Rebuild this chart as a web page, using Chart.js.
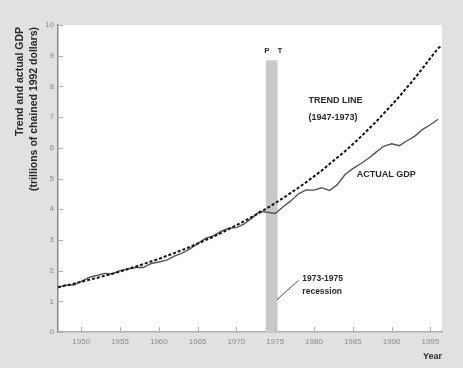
<!DOCTYPE html>
<html>
<head>
<meta charset="utf-8">
<script src="https://cdn.jsdelivr.net/npm/chart.js@4"></script>
<style>
  body { margin: 0; background: #e1e1e1; }
  canvas { display: block; }
</style>
</head>
<body>
<canvas id="myChart" width="463" height="368"></canvas>
<script>
// Datos (billones de dolares de 1992)
const trendYears = [1947, 1948, 1949, 1950, 1951, 1952, 1953, 1954, 1955, 1956, 1957, 1958, 1959,
    1960, 1961, 1962, 1963, 1964, 1965, 1966, 1967, 1968, 1969, 1970, 1971, 1972, 1973, 1974,
    1975, 1976, 1977, 1978, 1979, 1980, 1981, 1982, 1983, 1984, 1985, 1986, 1987, 1988, 1989,
    1990, 1991, 1992, 1993, 1994, 1995, 1996, 1996.5];
const trendValues = [1.46, 1.52, 1.57, 1.64, 1.70, 1.76, 1.83, 1.90, 1.97, 2.05, 2.13, 2.21, 2.30,
    2.38, 2.48, 2.57, 2.67, 2.77, 2.88, 2.99, 3.10, 3.22, 3.35, 3.48, 3.61, 3.75, 3.89, 4.04,
    4.20, 4.36, 4.53, 4.70, 4.88, 5.07, 5.26, 5.47, 5.68, 5.89, 6.12, 6.35, 6.60, 6.85, 7.12,
    7.39, 7.67, 7.97, 8.27, 8.59, 8.92, 9.24, 9.34];

const gdpYears = [1947, 1948, 1949, 1950, 1951, 1952, 1953, 1954, 1955, 1956, 1957, 1958, 1959,
    1960, 1961, 1962, 1963, 1964, 1965, 1966, 1967, 1968, 1969, 1970, 1971, 1972, 1973, 1974,
    1975, 1976, 1977, 1978, 1979, 1980, 1981, 1982, 1983, 1984, 1985, 1986, 1987, 1988, 1989,
    1990, 1991, 1992, 1993, 1994, 1995, 1996];
const gdpValues = [1.46, 1.52, 1.53, 1.65, 1.78, 1.84, 1.91, 1.89, 2.00, 2.05, 2.10, 2.10, 2.23,
    2.28, 2.34, 2.47, 2.57, 2.71, 2.88, 3.05, 3.13, 3.28, 3.38, 3.40, 3.52, 3.71, 3.93, 3.90,
    3.86, 4.07, 4.27, 4.50, 4.63, 4.62, 4.70, 4.61, 4.80, 5.13, 5.32, 5.48, 5.65, 5.86, 6.05,
    6.13, 6.07, 6.23, 6.38, 6.60, 6.75, 6.93];

const xTicks = [1950, 1955, 1960, 1965, 1970, 1975, 1980, 1985, 1990, 1995];
const yTicks = [0, 1, 2, 3, 4, 5, 6, 7, 8, 9, 10];
const recession = [1973.8, 1975.3];

const trendData = trendYears.map((yr, i) => ({ x: yr, y: trendValues[i] }));
const gdpData = gdpYears.map((yr, i) => ({ x: yr, y: gdpValues[i] }));

const textColor = '#2a2a2a';
const tickColor = '#8a8a8a';
const fontFam = '"Liberation Sans", Arial, sans-serif';

// Fondo, banda de recesion y textos
const refPlugin = {
    id: 'ref',
    beforeDraw(chart) {
        const ctx = chart.ctx;
        const a = chart.chartArea;
        ctx.save();
        ctx.fillStyle = '#e1e1e1';
        ctx.fillRect(0, 0, chart.width, chart.height);
        ctx.fillStyle = '#ffffff';
        ctx.fillRect(a.left, a.top, a.right - a.left, a.bottom - a.top);
        ctx.restore();
    },
    beforeDatasetsDraw(chart) {
        const ctx = chart.ctx;
        const x = chart.scales.x, y = chart.scales.y;
        ctx.save();
        ctx.fillStyle = '#c9c9c9';
        const x0 = x.getPixelForValue(recession[0]);
        const x1 = x.getPixelForValue(recession[1]);
        const yTop = y.getPixelForValue(8.85);
        ctx.fillRect(x0, yTop, x1 - x0, y.bottom - yTop);

        // marcas de los ejes hacia dentro
        ctx.strokeStyle = '#b5b5b5';
        ctx.lineWidth = 1;
        yTicks.forEach(v => {
            const py = Math.round(y.getPixelForValue(v)) + 0.5;
            ctx.beginPath();
            ctx.moveTo(x.left, py);
            ctx.lineTo(x.left + 5, py);
            ctx.stroke();
        });
        xTicks.forEach(v => {
            const px = Math.round(x.getPixelForValue(v)) + 0.5;
            ctx.beginPath();
            ctx.moveTo(px, y.bottom);
            ctx.lineTo(px, y.bottom - 5);
            ctx.stroke();
        });
        ctx.restore();
    },
    afterDraw(chart) {
        const ctx = chart.ctx;
        const x = chart.scales.x, y = chart.scales.y;
        ctx.save();
        ctx.fillStyle = textColor;
        ctx.font = 'bold 8px ' + fontFam;
        ctx.textBaseline = 'middle';
        ctx.textAlign = 'left';

        // P T sobre la banda
        ctx.fillText('P', x.getPixelForValue(1973.6), y.getPixelForValue(9.15));
        ctx.fillText('T', x.getPixelForValue(1975.3), y.getPixelForValue(9.15));

        ctx.font = 'bold 9px ' + fontFam;
        ctx.fillText('TREND LINE', x.getPixelForValue(1979.3), y.getPixelForValue(7.55));
        ctx.fillText('(1947-1973)', x.getPixelForValue(1979.3), y.getPixelForValue(7.0));
        ctx.fillText('ACTUAL GDP', x.getPixelForValue(1985.5), y.getPixelForValue(5.12));
        ctx.font = 'bold 8.5px ' + fontFam;
        ctx.fillText('1973-1975', x.getPixelForValue(1978.5), y.getPixelForValue(1.74));
        ctx.fillText('recession', x.getPixelForValue(1978.5), y.getPixelForValue(1.32));

        // linea guia de la recesion
        ctx.strokeStyle = '#555555';
        ctx.lineWidth = 1;
        ctx.beginPath();
        ctx.moveTo(x.getPixelForValue(1975.2), y.getPixelForValue(1.05));
        ctx.lineTo(x.getPixelForValue(1978.0), y.getPixelForValue(1.68));
        ctx.stroke();

        ctx.font = 'bold 9px ' + fontFam;
        ctx.textAlign = 'right';
        ctx.fillText('Year', x.right, 357);

        // titulo del eje Y en dos lineas
        ctx.font = 'bold 10.5px ' + fontFam;
        ctx.translate(20, y.top + 2);
        ctx.rotate(-Math.PI / 2);
        ctx.textAlign = 'right';
        ctx.fillText('Trend and actual GDP', 0, 0);
        ctx.fillText('(trillions of chained 1992 dollars)', 0, 14);
        ctx.restore();
    }
};

function main() {
    const chartData = {
        datasets: [{
            label: 'Trend line (1947-1973)',
            data: trendData,
            borderColor: '#111111',
            borderWidth: 2,
            borderDash: [3, 2],
            pointRadius: 0,
            tension: 0
        }, {
            label: 'Actual GDP',
            data: gdpData,
            borderColor: '#555555',
            borderWidth: 1.4,
            pointRadius: 0,
            tension: 0
        }]
    };

    const config = {
        type: 'line',
        data: chartData,
        options: {
            responsive: false,
            animation: false,
            layout: { padding: { top: 25, right: 21, left: 0, bottom: 0 } },
            plugins: {
                legend: { display: false },
                tooltip: { enabled: false }
            },
            scales: {
                x: {
                    type: 'linear',
                    min: 1947,
                    max: 1996.5,
                    afterBuildTicks: s => { s.ticks = xTicks.map(v => ({ value: v })); },
                    afterFit: s => { s.height = 36; },
                    grid: { display: false, drawTicks: false },
                    border: { display: true, color: '#b0b0b0', width: 1.5 },
                    ticks: {
                        color: tickColor,
                        padding: 5,
                        maxRotation: 0,
                        font: { size: 8, family: fontFam },
                        callback: v => String(v)
                    }
                },
                y: {
                    min: 0,
                    max: 10,
                    afterBuildTicks: s => { s.ticks = yTicks.map(v => ({ value: v })); },
                    afterFit: s => { s.width = 58; },
                    grid: { display: false, drawTicks: false },
                    border: { display: true, color: '#8a8a8a', width: 1.5 },
                    ticks: {
                        color: tickColor,
                        padding: 4,
                        font: { size: 8, family: fontFam }
                    }
                }
            }
        },
        plugins: [refPlugin]
    };

    new Chart(document.getElementById('myChart'), config);
}

document.addEventListener('DOMContentLoaded', function () {
    main();
});
</script>
</body>
</html>
